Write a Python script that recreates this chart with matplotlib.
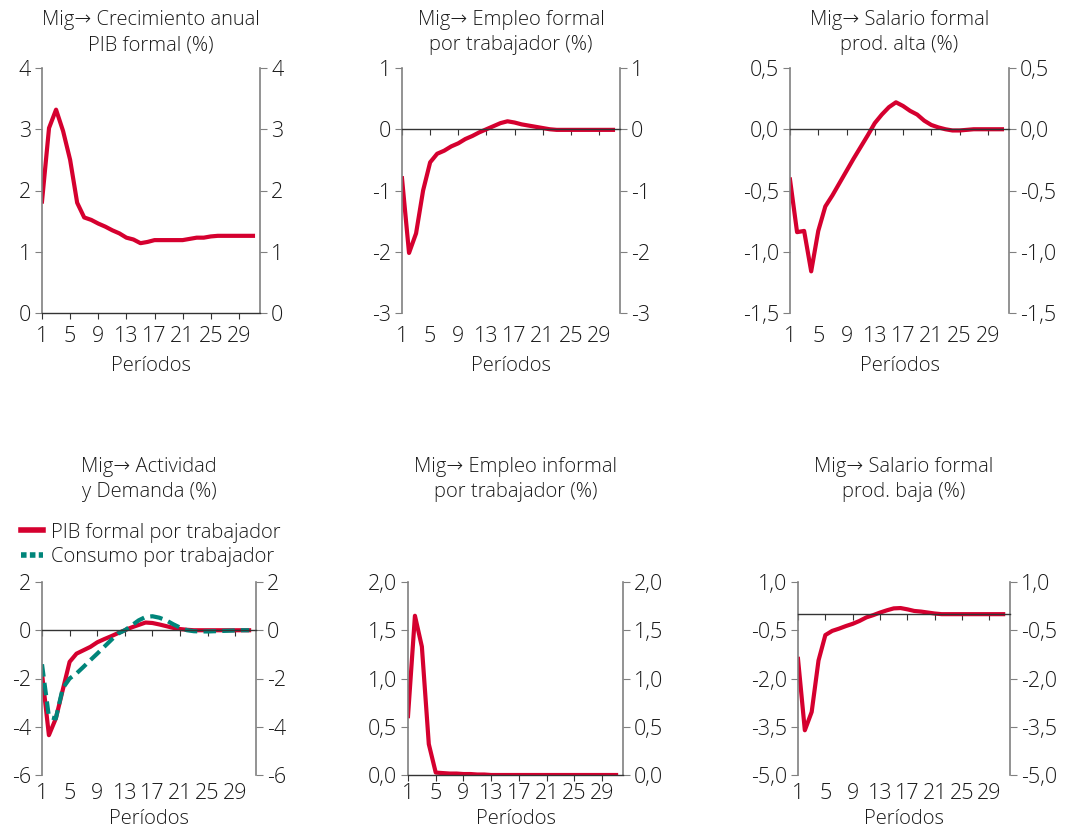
import numpy as np
import matplotlib
matplotlib.use("Agg")
import matplotlib.pyplot as plt
from matplotlib.ticker import FuncFormatter
from matplotlib.lines import Line2D

plt.rcParams['font.family'] = ['Open Sans', 'DejaVu Sans']
plt.rcParams['font.weight'] = 'light'
plt.rcParams['axes.labelweight'] = 'light'
plt.rcParams['font.size'] = 14.5

periods = np.arange(1, 32)
x_ticks = [1, 5, 9, 13, 17, 21, 25, 29]

pib_crec = [1.82, 3.02, 3.32, 2.97, 2.50, 1.80, 1.56, 1.52, 1.46, 1.41, 1.35, 1.30,
            1.23, 1.20, 1.14, 1.16, 1.19, 1.19, 1.19, 1.19, 1.19, 1.21, 1.23, 1.23,
            1.25, 1.26, 1.26, 1.26, 1.26, 1.26, 1.26]
empleo_formal = [-0.80, -2.02, -1.70, -1.00, -0.54, -0.40, -0.35, -0.28, -0.23, -0.16,
                 -0.11, -0.05, 0.00, 0.05, 0.10, 0.13, 0.11, 0.08, 0.06, 0.04, 0.02,
                 0.00, -0.01, -0.01, -0.01, -0.01, -0.01, -0.01, -0.01, -0.01, -0.01]
salario_alta = [-0.41, -0.84, -0.83, -1.16, -0.83, -0.63, -0.54, -0.44, -0.34, -0.24,
                -0.145, -0.05, 0.05, 0.12, 0.18, 0.22, 0.19, 0.15, 0.12, 0.07, 0.035,
                0.015, 0.0, -0.01, -0.01, -0.005, 0.0, 0.0, 0.0, 0.0, 0.0]
pib_trab = [-1.79, -4.35, -3.66, -2.48, -1.31, -0.97, -0.83, -0.69, -0.50, -0.37,
            -0.25, -0.12, 0.0, 0.12, 0.22, 0.32, 0.30, 0.24, 0.17, 0.10, 0.05,
            0.02, 0.0, 0.0, 0.0, 0.0, 0.0, 0.0, 0.0, 0.0, 0.0]
consumo_trab = [-1.41, -3.59, -3.66, -2.41, -2.00, -1.79, -1.52, -1.24, -0.97, -0.69,
                -0.41, -0.14, 0.0, 0.20, 0.41, 0.55, 0.58, 0.52, 0.41, 0.25, 0.11,
                0.0, -0.04, -0.05, -0.05, -0.04, -0.03, -0.02, -0.01, 0.0, 0.0]
empleo_informal = [0.61, 1.65, 1.33, 0.32, 0.025, 0.02, 0.015, 0.015, 0.01, 0.01,
                   0.005, 0.005, 0.0, 0.0, 0.0, 0.0, 0.0, 0.0, 0.0, 0.0, 0.0,
                   0.0, 0.0, 0.0, 0.0, 0.0, 0.0, 0.0, 0.0, 0.0, 0.0]
salario_baja = [-1.39, -3.61, -3.04, -1.44, -0.65, -0.52, -0.45, -0.37, -0.30, -0.21,
                -0.10, -0.03, 0.05, 0.12, 0.18, 0.19, 0.15, 0.10, 0.08, 0.05, 0.02,
                0.0, 0.0, 0.0, 0.0, 0.0, 0.0, 0.0, 0.0, 0.0, 0.0]

RED = '#d5002f'
TEAL = '#00857a'
GRAY = '#808080'
TXT = '#1a1a1a'

W, H = 1067, 827
fig = plt.figure(figsize=(W / 100, H / 100), dpi=100)


def make_panel(box, title, yticks, decimals, title_y, xpad, lpad):
    l, r, t, b = box
    ax = fig.add_axes([l / W, 1 - b / H, (r - l) / W, (b - t) / H])
    ax.set_xlim(1, 32)
    ax.set_ylim(yticks[-1], yticks[0])
    ax.set_yticks(yticks)
    if decimals:
        fmt = FuncFormatter(lambda v, p: f"{v:.1f}".replace('.', ','))
    else:
        fmt = FuncFormatter(lambda v, p: f"{v:.0f}")
    ax.yaxis.set_major_formatter(fmt)
    ax.tick_params(axis='y', which='both', left=True, right=True, labelleft=True,
                   labelright=True, direction='out', length=5, color=GRAY,
                   labelcolor=TXT, labelsize=15.5, pad=3)
    for s in ['left', 'right']:
        ax.spines[s].set_color(GRAY)
        ax.spines[s].set_linewidth(1.2)
    ax.spines['top'].set_visible(False)
    ax.spines['bottom'].set_position(('data', 0))
    ax.spines['bottom'].set_color('#333333')
    ax.spines['bottom'].set_linewidth(1.0)
    ax.set_xticks(x_ticks)
    ax.tick_params(axis='x', direction='out', length=4, color='#333333',
                   labelbottom=False)
    sec = ax.secondary_xaxis('bottom')
    sec.set_xticks(x_ticks)
    sec.tick_params(length=0, labelsize=15.5, labelcolor=TXT, pad=xpad)
    sec.spines['bottom'].set_visible(False)
    sec.set_xlabel('Períodos', fontsize=14.5, color=TXT, labelpad=lpad,
                   fontweight='light')
    cx = (l + r) / 2 / W
    fig.text(cx, 1 - title_y / H, title, ha='center', va='top', fontsize=14.5,
             color=TXT, linespacing=1.35)
    return ax


top = (68, 313)
bot = (582, 775)

ax1 = make_panel((42, 260) + top, 'Mig→ Crecimiento anual\nPIB formal (%)',
                 [4, 3, 2, 1, 0], False, 10, 9, 7)
ax1.plot(periods, pib_crec, color=RED, lw=3, solid_joinstyle='round')

ax2 = make_panel((402, 620) + top, 'Mig→ Empleo formal\npor trabajador (%)',
                 [1, 0, -1, -2, -3], False, 10, 9, 7)
ax2.plot(periods, empleo_formal, color=RED, lw=3)

ax3 = make_panel((790, 1009) + top, 'Mig→ Salario formal\nprod. alta (%)',
                 [0.5, 0.0, -0.5, -1.0, -1.5], True, 10, 9, 7)
ax3.plot(periods, salario_alta, color=RED, lw=3)

ax4 = make_panel((42, 256) + bot, 'Mig→ Actividad\ny Demanda (%)',
                 [2, 0, -2, -4, -6], False, 457, 6, 3)
ax4.plot(periods, pib_trab, color=RED, lw=3)
ax4.plot(periods, consumo_trab, color=TEAL, lw=3, dashes=(3, 1.5))
handles = [Line2D([], [], color=RED, lw=4),
           Line2D([], [], color=TEAL, lw=4, dashes=(1, 0.6))]
ax4.legend(handles, ['PIB formal por trabajador', 'Consumo por trabajador'],
           loc='lower left', bbox_to_anchor=(-0.10, 1.08), frameon=False,
           fontsize=14.5, handlelength=1.1, handletextpad=0.4, labelspacing=0.2,
           borderaxespad=0, borderpad=0, labelcolor=TXT)

ax5 = make_panel((408, 623) + bot, 'Mig→ Empleo informal\npor trabajador (%)',
                 [2.0, 1.5, 1.0, 0.5, 0.0], True, 457, 6, 3)
ax5.plot(periods, empleo_informal, color=RED, lw=3)

ax6 = make_panel((798, 1010) + bot, 'Mig→ Salario formal\nprod. baja (%)',
                 [1.0, -0.5, -2.0, -3.5, -5.0], True, 457, 6, 3)
ax6.plot(periods, salario_baja, color=RED, lw=3)

fig.savefig('out.png', dpi=100)
